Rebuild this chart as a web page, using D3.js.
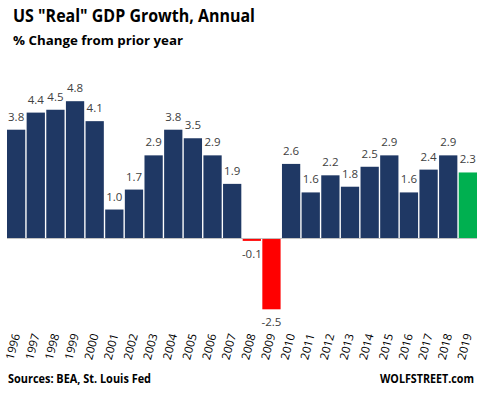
<!DOCTYPE html>
<html>
<head>
<meta charset="utf-8">
<script src="https://cdn.jsdelivr.net/npm/d3@7"></script>
<style>
  body { margin: 0; background: #fff; }
  text { font-family: "Open Sans", "Noto Sans", sans-serif; }
</style>
</head>
<body>
<svg id="chart" width="482" height="396"></svg>
<script>
// annual real GDP growth, % change from prior year
var years = ["1996","1997","1998","1999","2000","2001","2002","2003","2004","2005","2006","2007",
             "2008","2009","2010","2011","2012","2013","2014","2015","2016","2017","2018","2019"];
var growth = [3.8, 4.4, 4.5, 4.8, 4.1, 1.0, 1.7, 2.9, 3.8, 3.5, 2.9, 1.9,
              -0.1, -2.5, 2.6, 1.6, 2.2, 1.8, 2.5, 2.9, 1.6, 2.4, 2.9, 2.3];

function drawChart() {
    var svg = d3.select("#chart");

    var data = years.map(function(y, i) { return {year: y, value: growth[i]}; });

    var x = d3.scaleBand().domain(years).range([7, 477]).paddingInner(0.07).paddingOuter(0);
    var y = d3.scaleLinear().domain([-2.5, 4.8]).range([309.3, 101.2]);

    function barColor(d, i) {
        if (d.value < 0) return "#ff0000";
        if (i == data.length - 1) return "#00b050";
        return "#1f3864";
    }

    // title + subtitle
    svg.append("text").attr("x", 13).attr("y", 22)
        .attr("font-size", 17.5).attr("font-weight", "bold").attr("fill", "#000")
        .attr("textLength", 242).attr("lengthAdjust", "spacingAndGlyphs")
        .text('US "Real" GDP Growth, Annual');
    svg.append("text").attr("x", 13).attr("y", 45)
        .attr("font-size", 13).attr("font-weight", "bold").attr("fill", "#000")
        .attr("textLength", 170).attr("lengthAdjust", "spacingAndGlyphs")
        .text("% Change from prior year");

    // bars
    svg.selectAll(".bar")
        .data(data)
        .enter().append("rect")
          .attr("class", "bar")
          .attr("x", function(d) { return x(d.year); })
          .attr("width", x.bandwidth())
          .attr("y", function(d) { return y(Math.max(0, d.value)); })
          .attr("height", function(d) { return Math.abs(y(d.value) - y(0)); })
          .attr("fill", barColor);

    // zero line
    svg.append("line")
        .attr("x1", 7).attr("x2", 477)
        .attr("y1", y(0) + 0.5).attr("y2", y(0) + 0.5)
        .attr("stroke", "#bfbfbf").attr("stroke-width", 1);

    // value labels (plain hyphen for negatives, like the original)
    svg.selectAll(".val")
        .data(data)
        .enter().append("text")
          .attr("class", "val")
          .attr("x", function(d) { return x(d.year) + x.bandwidth() / 2; })
          .attr("y", function(d) { return d.value >= 0 ? y(d.value) - 9 : y(d.value) + 17; })
          .attr("text-anchor", "middle")
          .attr("font-size", 11.5)
          .attr("fill", "#404040")
          .text(function(d) { return d.value.toFixed(1); });

    // year labels, rotated
    svg.selectAll(".yr")
        .data(years)
        .enter().append("text")
          .attr("class", "yr")
          .attr("text-anchor", "end")
          .attr("font-size", 11.5)
          .attr("fill", "#000")
          .attr("transform", function(d) {
              return "translate(" + (x(d) + x.bandwidth() / 2 + 4) + ",335) rotate(-75)";
          })
          .text(function(d) { return d; });

    // footer
    svg.append("text").attr("x", 8).attr("y", 383)
        .attr("font-size", 11.5).attr("font-weight", "bold").attr("fill", "#000")
        .attr("textLength", 143).attr("lengthAdjust", "spacingAndGlyphs")
        .text("Sources: BEA, St. Louis Fed");
    svg.append("text").attr("x", 380).attr("y", 383)
        .attr("font-size", 11.5).attr("font-weight", "bold").attr("fill", "#000")
        .attr("textLength", 94).attr("lengthAdjust", "spacingAndGlyphs")
        .text("WOLFSTREET.com");
}

drawChart();
</script>
</body>
</html>
